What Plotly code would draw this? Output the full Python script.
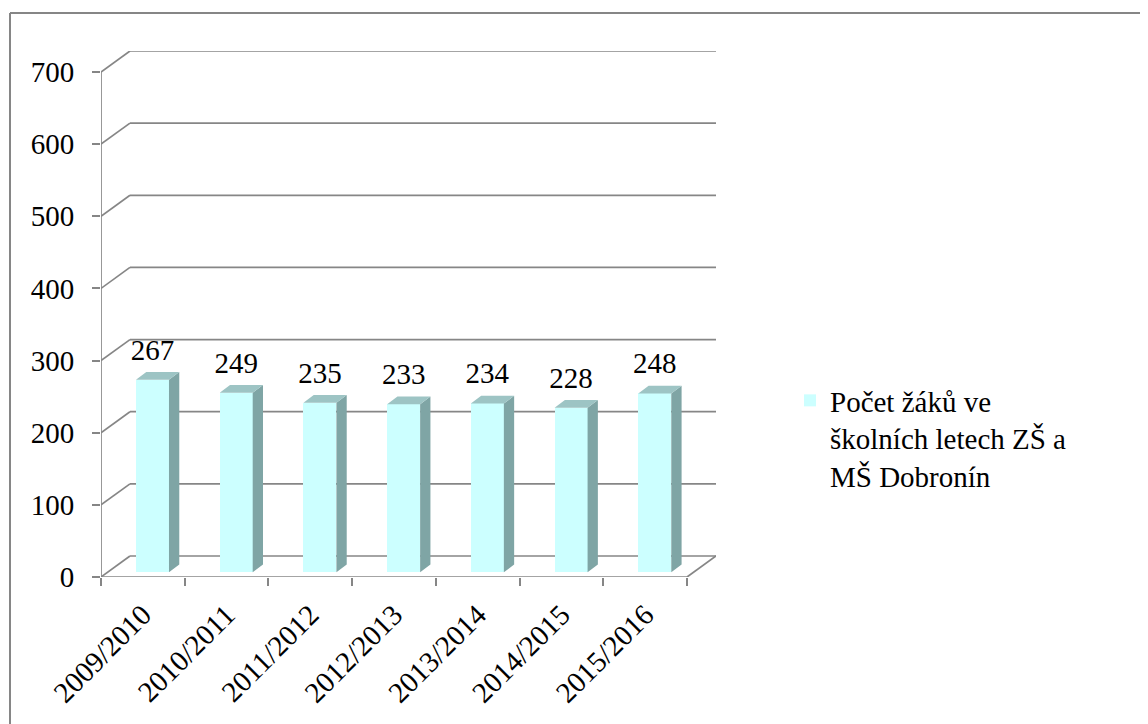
import plotly.graph_objects as go

# ---- data ----
CATEGORIES = ["2009/2010", "2010/2011", "2011/2012", "2012/2013",
              "2013/2014", "2014/2015", "2015/2016"]
VALUES = [267, 249, 235, 233, 234, 228, 248]
Y_TICKS = [0, 100, 200, 300, 400, 500, 600, 700]
SERIES_NAME = "Počet žáků ve<br>školních letech ZŠ a<br>MŠ Dobronín"

# ---- geometry / style constants ----
PAGE_OFF = 8                           # default body margin of the html page
W, H = 1148 - PAGE_OFF, 724 - PAGE_OFF
L, R, T, B = 101 - PAGE_OFF, 716 - PAGE_OFF, 51 - PAGE_OFF, 577 - PAGE_OFF
N = len(CATEGORIES)
DEPTH_X = 0.346      # back-wall offset (category units)
DEPTH_Y = 29.1       # back-wall offset (value units)
BAR_LEFT = 0.418
BAR_W = 0.394
BAR_BASE = 6.5
BAR_DX = 0.123
BAR_DY = 10.7
LABEL_GAP = 38.0
GRAY = "#868686"
FRONT = "#CCFFFF"
SIDE = "#7FA5A5"
TOP = "#9DC4C4"
FONT = "'Liberation Serif', 'Times New Roman', serif"
FS = 29

x_range = [0, N + DEPTH_X]
y_range = [0, Y_TICKS[-1] + DEPTH_Y]


def px_to_paper_x(px):
    return (px - PAGE_OFF - L) / (R - L)


def px_to_paper_y(py):
    return (B - (py - PAGE_OFF)) / (B - T)


fig = go.Figure()

# front bar faces
centers = [i + BAR_LEFT + BAR_W / 2 for i in range(N)]
fig.add_trace(go.Bar(
    x=centers, y=VALUES, base=BAR_BASE, width=BAR_W,
    marker=dict(color=FRONT, line=dict(width=0)),
    name=SERIES_NAME, showlegend=True, hoverinfo="skip",
))

# side and top faces
sx, sy = [], []
tx, ty = [], []
for i, v in enumerate(VALUES):
    xl = i + BAR_LEFT
    xr = xl + BAR_W
    top = BAR_BASE + v
    sx += [xr, xr + BAR_DX, xr + BAR_DX, xr, xr, None]
    sy += [BAR_BASE, BAR_BASE + BAR_DY, top + BAR_DY, top, BAR_BASE, None]
    tx += [xl, xr, xr + BAR_DX, xl + BAR_DX, xl, None]
    ty += [top, top, top + BAR_DY, top + BAR_DY, top, None]
fig.add_trace(go.Scatter(x=sx, y=sy, mode="lines", fill="toself",
                         fillcolor=SIDE, line=dict(width=0),
                         showlegend=False, hoverinfo="skip"))
fig.add_trace(go.Scatter(x=tx, y=ty, mode="lines", fill="toself",
                         fillcolor=TOP, line=dict(width=0),
                         showlegend=False, hoverinfo="skip"))

# data labels
fig.add_trace(go.Scatter(
    x=centers, y=[v + BAR_BASE + LABEL_GAP for v in VALUES],
    mode="text", text=[str(v) for v in VALUES],
    textposition="middle center",
    textfont=dict(family=FONT, size=FS, color="black"),
    showlegend=False, hoverinfo="skip"))

# gridlines (back wall + side wall slants)
shapes = []
line = dict(color=GRAY, width=1.7)
for t in Y_TICKS:
    shapes.append(dict(type="line", xref="x", yref="y", layer="below",
                       x0=0, y0=t, x1=DEPTH_X, y1=t + DEPTH_Y, line=line))
    shapes.append(dict(type="line", xref="x", yref="y", layer="below",
                       x0=DEPTH_X, y0=t + DEPTH_Y, x1=N + DEPTH_X,
                       y1=t + DEPTH_Y, line=line))
# front vertical axis
shapes.append(dict(type="line", xref="x", yref="y", layer="below",
                   x0=0, y0=0, x1=0, y1=Y_TICKS[-1], line=line))
# floor front and right edges
shapes.append(dict(type="line", xref="x", yref="y", layer="below",
                   x0=0, y0=0, x1=N, y1=0, line=line))
shapes.append(dict(type="line", xref="x", yref="y", layer="below",
                   x0=N, y0=0, x1=N + DEPTH_X, y1=DEPTH_Y, line=line))
# outer chart border (top & left visible)
bx0, by0 = px_to_paper_x(10), px_to_paper_y(13)
shapes.append(dict(type="line", xref="paper", yref="paper",
                   x0=bx0, y0=by0, x1=px_to_paper_x(1160), y1=by0,
                   line=dict(color=GRAY, width=2)))
shapes.append(dict(type="line", xref="paper", yref="paper",
                   x0=bx0, y0=by0, x1=bx0, y1=px_to_paper_y(740),
                   line=dict(color=GRAY, width=2)))

fig.update_layout(
    width=W, height=H,
    margin=dict(l=L, r=W - R, t=T, b=H - B, autoexpand=False),
    paper_bgcolor="white", plot_bgcolor="white",
    font=dict(family=FONT, size=FS, color="black"),
    shapes=shapes,
    bargap=0,
    legend=dict(x=px_to_paper_x(790), y=px_to_paper_y(375),
                xanchor="left", yanchor="top", valign="top",
                font=dict(family=FONT, size=FS, color="black"),
                bgcolor="rgba(0,0,0,0)"),
    xaxis=dict(range=x_range, tickmode="array",
               tickvals=[i + 0.5 for i in range(N)], ticktext=CATEGORIES,
               tickangle=-45, ticks="", showgrid=False, zeroline=False,
               showline=False, automargin=False, ticklabelstandoff=14,
               tickfont=dict(family=FONT, size=FS),
               minor=dict(tickmode="array", tickvals=list(range(N + 1)),
                          ticks="outside", ticklen=8, tickwidth=1.7,
                          tickcolor=GRAY, showgrid=False)),
    yaxis=dict(range=y_range, tickmode="array", tickvals=Y_TICKS,
               ticks="outside", ticklen=8, tickwidth=1.7, tickcolor=GRAY,
               showgrid=False, zeroline=False, showline=False,
               automargin=False, ticklabelstandoff=12,
               tickfont=dict(family=FONT, size=FS)),
)

fig.write_html("out.html")
